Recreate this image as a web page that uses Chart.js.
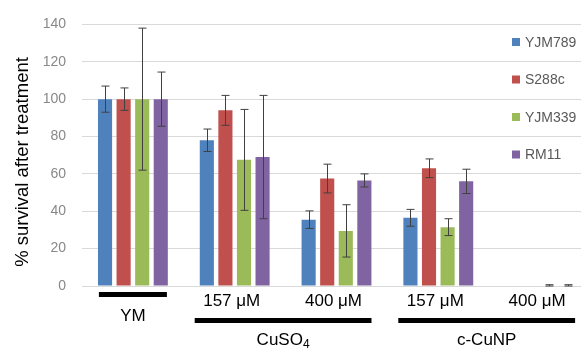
<!DOCTYPE html>
<html>
<head>
<meta charset="utf-8">
<script src="https://cdn.jsdelivr.net/npm/chart.js@4.4.1/dist/chart.umd.min.js"></script>
<style>
  html, body { margin: 0; padding: 0; background: #fff; overflow: hidden; }
  #wrap { width: 581px; height: 350px; overflow: hidden; }
</style>
</head>
<body>
<div id="wrap"><canvas id="myChart" width="591" height="350"></canvas></div>
<script>
// data
const categories = ['YM', '157 μM', '400 μM', '157 μM', '400 μM'];
const seriesNames = ['YJM789', 'S288c', 'YJM339', 'RM11'];
const yjm789 = [100, 78, 35.5, 36.5, 0];
const yjm789Err = [7, 6, 4.7, 4.5, 0];
const s288c = [100, 94, 57.5, 63, 0];
const s288cErr = [6, 8, 7.7, 5, 0];
const yjm339 = [100, 67.5, 29.5, 31.5, 0.3];
const yjm339Err = [38, 27, 14, 4.5, 0.4];
const rm11 = [100, 69, 56.5, 56, 0.3];
const rm11Err = [14.5, 33, 3.5, 6.5, 0.4];
const yTicks = [0, 20, 40, 60, 80, 100, 120, 140];
const yTitle = '% survival after treatment';
// treatment brackets: [label, first category, last category, subscript]
const treatments = [['CuSO', 1, 2, '4'], ['c-CuNP', 3, 4, '']];

const colors = ['#4f81bd', '#c0504d', '#9bbb59', '#8064a2'];
const values = [yjm789, s288c, yjm339, rm11];
const errors = [yjm789Err, s288cErr, yjm339Err, rm11Err];
const FONT = "'Liberation Sans', Arial, sans-serif";

const errorBars = {
    id: 'errorBars',
    afterDatasetsDraw(chart) {
        const ctx = chart.ctx;
        const y = chart.scales.y;
        ctx.save();
        ctx.strokeStyle = '#404040';
        ctx.lineWidth = 1;
        chart.data.datasets.forEach((ds, i) => {
            chart.getDatasetMeta(i).data.forEach((bar, j) => {
                const e = errors[i][j];
                if (!e) return;
                const x = Math.round(bar.x) + 0.5;
                const top = y.getPixelForValue(ds.data[j] + e);
                const bot = y.getPixelForValue(Math.max(ds.data[j] - e, 0));
                ctx.beginPath();
                ctx.moveTo(x, top); ctx.lineTo(x, bot);
                ctx.moveTo(x - 4, top); ctx.lineTo(x + 4, top);
                ctx.moveTo(x - 4, bot); ctx.lineTo(x + 4, bot);
                ctx.stroke();
            });
        });
        ctx.restore();
    }
};

const sideLegend = {
    id: 'sideLegend',
    afterDraw(chart) {
        const ctx = chart.ctx;
        ctx.save();
        ctx.font = '14px ' + FONT;
        ctx.textBaseline = 'middle';
        chart.data.datasets.forEach((ds, i) => {
            const cy = 42 + i * 37.5;
            ctx.fillStyle = ds.backgroundColor;
            ctx.fillRect(512, cy - 4, 8, 8);
            ctx.fillStyle = '#595959';
            ctx.fillText(ds.label, 525, cy + 1);
        });
        ctx.restore();
    }
};

const groupLabels = {
    id: 'groupLabels',
    afterDraw(chart) {
        const ctx = chart.ctx;
        const x = chart.scales.x;
        ctx.save();
        ctx.fillStyle = '#000';
        // y axis title
        ctx.save();
        ctx.translate(23, 162);
        ctx.rotate(-Math.PI / 2);
        ctx.font = '18.5px ' + FONT;
        ctx.textAlign = 'center';
        ctx.textBaseline = 'middle';
        ctx.fillText(yTitle, 0, 0);
        ctx.restore();

        ctx.font = '17px ' + FONT;
        ctx.textAlign = 'center';
        ctx.textBaseline = 'middle';
        categories.forEach((c, i) => {
            const cx = x.getPixelForValue(i);
            if (i === 0) {
                ctx.fillRect(cx - 34, 292, 68, 5);
                ctx.fillText(c, cx, 316);
            } else {
                ctx.fillText(c, cx - 3, 301);
            }
        });
        treatments.forEach(t => {
            const x0 = x.getPixelForValue(t[1]) - 40;
            const x1 = x.getPixelForValue(t[2]) + 35;
            ctx.fillRect(x0, 318, x1 - x0, 5);
            const cx = (x0 + x1) / 2;
            if (t[3]) {
                ctx.textAlign = 'left';
                const w = ctx.measureText(t[0]).width;
                ctx.font = '12px ' + FONT;
                const ws = ctx.measureText(t[3]).width;
                const sx = cx - (w + ws) / 2;
                ctx.fillText(t[3], sx + w, 345);
                ctx.font = '17px ' + FONT;
                ctx.fillText(t[0], sx, 340);
                ctx.textAlign = 'center';
            } else {
                ctx.fillText(t[0], cx, 340);
            }
        });
        ctx.restore();
    }
};

const ctx = document.getElementById('myChart').getContext('2d');

const myChart = new Chart(ctx, {
    type: 'bar',
    data: {
        labels: categories,
        datasets: values.map((v, i) => ({
            label: seriesNames[i],
            data: v,
            backgroundColor: colors[i],
            borderWidth: 0,
            categoryPercentage: 0.73,
            barPercentage: 0.76
        }))
    },
    options: {
        responsive: false,
        animation: false,
        devicePixelRatio: 1,
        layout: {
            padding: { top: 19, bottom: 64, left: 0, right: 0 }
        },
        scales: {
            x: {
                display: false
            },
            y: {
                min: 0,
                max: 140,
                afterFit: function (scale) {
                    scale.width = 82;
                },
                afterBuildTicks: function (scale) {
                    scale.ticks = yTicks.map(v => ({ value: v }));
                },
                border: { display: false },
                grid: {
                    color: '#d9d9d9',
                    drawTicks: false
                },
                ticks: {
                    color: '#888888',
                    padding: 16,
                    font: { family: FONT, size: 14 }
                }
            }
        },
        plugins: {
            legend: { display: false },
            tooltip: { enabled: false }
        }
    },
    plugins: [errorBars, sideLegend, groupLabels]
});
</script>
</body>
</html>
